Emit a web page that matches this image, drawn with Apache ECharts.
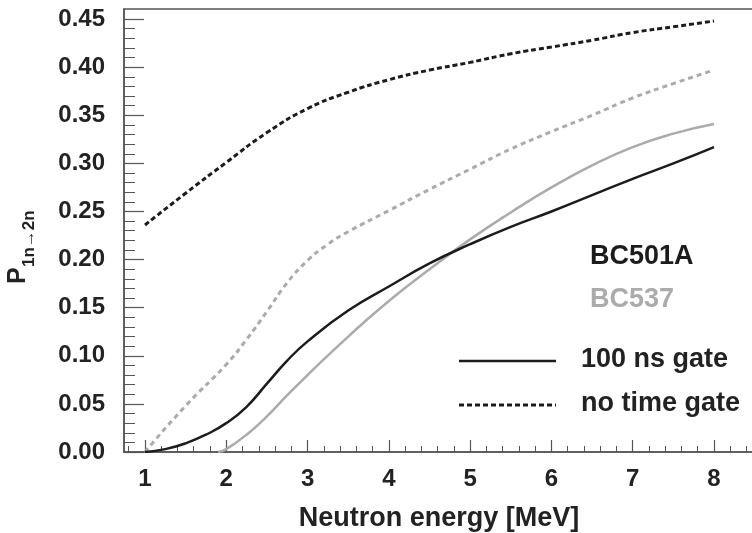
<!DOCTYPE html>
<html>
<head>
<meta charset="utf-8">
<title>P1n-2n vs neutron energy</title>
<script src="https://cdn.jsdelivr.net/npm/echarts@6/dist/echarts.min.js"></script>
<style>
  html, body { margin: 0; padding: 0; background: #fff; }
  #chart { width: 752px; height: 533px; }
</style>
</head>
<body>
<div id="chart"></div>
<script>
// neutron energy (MeV) sampled along each curve
var energyA = [1, 1.25, 1.5, 1.75, 2, 2.25, 2.5, 2.75, 3, 3.5, 4, 4.5, 5, 5.5, 6, 6.5, 7, 7.5, 8];
var bc501aGate = [0, 0.003, 0.009, 0.018, 0.030, 0.047, 0.071, 0.095, 0.115, 0.147, 0.172, 0.196, 0.216, 0.234, 0.250, 0.267, 0.284, 0.300, 0.317];

var energyB = [1.9, 2, 2.25, 2.5, 2.75, 3, 3.5, 4, 4.5, 5, 5.5, 6, 6.5, 7, 7.5, 8];
var bc537Gate = [0, 0.003, 0.018, 0.037, 0.059, 0.080, 0.120, 0.157, 0.190, 0.221, 0.249, 0.275, 0.298, 0.317, 0.331, 0.341];

var energyC = [1, 1.5, 2, 2.5, 3, 3.5, 4, 4.5, 5, 5.5, 6, 6.5, 7, 7.5, 8];
var bc501aNoGate = [0.236, 0.269, 0.301, 0.332, 0.357, 0.374, 0.387, 0.397, 0.405, 0.414, 0.421, 0.428, 0.436, 0.442, 0.448];

var energyD = [1, 1.5, 2, 2.25, 2.5, 2.75, 3, 3.25, 3.5, 4, 4.5, 5, 5.5, 6, 6.5, 7, 7.5, 8];
var bc537NoGate = [0.0, 0.048, 0.091, 0.117, 0.146, 0.176, 0.199, 0.216, 0.229, 0.251, 0.273, 0.294, 0.315, 0.333, 0.350, 0.368, 0.383, 0.397];

var xTicks = [1, 2, 3, 4, 5, 6, 7, 8];
var xMinorTicks = [0.8, 1.2, 1.4, 1.6, 1.8, 2.2, 2.4, 2.6, 2.8, 3.2, 3.4, 3.6, 3.8, 4.2, 4.4, 4.6, 4.8,
                   5.2, 5.4, 5.6, 5.8, 6.2, 6.4, 6.6, 6.8, 7.2, 7.4, 7.6, 7.8, 8.2, 8.4];
var yTicks = [0, 0.05, 0.10, 0.15, 0.20, 0.25, 0.30, 0.35, 0.40, 0.45];
var yMinorTicks = [];
for (var k = 1; k < 46; k++) { if (k % 5 != 0) yMinorTicks.push(+(k / 100).toFixed(2)); }

function pairs(xs, ys) {
  var out = [];
  for (var i = 0; i < xs.length; i++) out.push([xs[i], ys[i]]);
  return out;
}

var FONT = "'Liberation Sans', Arial, sans-serif";
var BLACK = '#1c1c1c';
var GREY = '#ababab';
var AXIS = '#555';

var myChart = echarts.init(document.getElementById('chart'), null, { renderer: 'canvas' });

var xMin = 0.742, xMax = 8.492, yMin = 0, yMax = 0.4605;

var option = {
  animation: false,
  grid: {
    left: 124, right: -2, top: 9, bottom: 81,
    outerBoundsMode: 'none', containLabel: false,
    show: true, borderColor: AXIS, borderWidth: 1.5
  },
  xAxis: [
    {
      type: 'value', min: xMin, max: xMax,
      splitLine: { show: false },
      axisLine: { show: true, onZero: false, lineStyle: { color: AXIS, width: 1.5 } },
      axisTick: { show: true, inside: true, length: 12, customValues: xTicks, lineStyle: { color: AXIS, width: 1.2 } },
      axisLabel: {
        customValues: xTicks, margin: 15,
        color: '#222', fontSize: 24, fontWeight: 'bold', fontFamily: FONT
      },
      name: 'Neutron energy [MeV]',
      nameLocation: 'middle', nameGap: 53,
      nameTextStyle: { color: '#222', fontSize: 27, fontWeight: 'bold', fontFamily: FONT }
    },
    {
      type: 'value', min: xMin, max: xMax, position: 'bottom',
      splitLine: { show: false },
      axisLine: { show: false },
      axisTick: { show: true, inside: true, length: 6, customValues: xMinorTicks, lineStyle: { color: AXIS, width: 1 } },
      axisLabel: { show: false }
    }
  ],
  yAxis: [
    {
      type: 'value', min: yMin, max: yMax,
      splitLine: { show: false },
      axisLine: { show: true, onZero: false, lineStyle: { color: AXIS, width: 1.5 } },
      axisTick: { show: true, inside: true, length: 20, customValues: yTicks, lineStyle: { color: AXIS, width: 1.2 } },
      axisLabel: {
        customValues: yTicks, margin: 19,
        formatter: function (v) { return v.toFixed(2); },
        color: '#222', fontSize: 24, fontWeight: 'bold', fontFamily: FONT
      }
    },
    {
      type: 'value', min: yMin, max: yMax, position: 'left',
      splitLine: { show: false },
      axisLine: { show: false },
      axisTick: { show: true, inside: true, length: 11, customValues: yMinorTicks, lineStyle: { color: AXIS, width: 1 } },
      axisLabel: { show: false }
    }
  ],
  series: [
    {
      name: 'BC501A no time gate', type: 'line', showSymbol: false, smooth: 0.5,
      data: pairs(energyC, bc501aNoGate),
      lineStyle: { color: BLACK, width: 3, type: [5, 3] }
    },
    {
      name: 'BC537 no time gate', type: 'line', showSymbol: false, smooth: 0.5,
      data: pairs(energyD, bc537NoGate),
      lineStyle: { color: GREY, width: 3, type: [5, 4] }
    },
    {
      name: 'BC537 100 ns gate', type: 'line', showSymbol: false, smooth: 0.5,
      data: pairs(energyB, bc537Gate),
      lineStyle: { color: GREY, width: 2.5 }
    },
    {
      name: 'BC501A 100 ns gate', type: 'line', showSymbol: false, smooth: 0.5,
      data: pairs(energyA, bc501aGate),
      lineStyle: { color: BLACK, width: 2.5 }
    }
  ],
  graphic: [
    // y axis name P_{1n->2n}
    {
      type: 'group', x: 31, y: 284, rotation: Math.PI / 2,
      children: [
        { type: 'text', x: 0, y: 0, style: { text: 'P', fill: '#222', font: 'bold 25px ' + FONT, textVerticalAlign: 'bottom' } },
        { type: 'text', x: 17, y: 7, style: { text: '1n\u21922n', fill: '#222', font: 'bold 17px ' + FONT, textVerticalAlign: 'bottom' } }
      ]
    },
    { type: 'text', left: 590, top: 243, style: { text: 'BC501A', fill: BLACK, font: 'bold 27px ' + FONT } },
    { type: 'text', left: 590, top: 286, style: { text: 'BC537', fill: GREY, font: 'bold 27px ' + FONT } },
    { type: 'line', shape: { x1: 459, y1: 361, x2: 556, y2: 361 }, style: { stroke: BLACK, lineWidth: 2.5 } },
    { type: 'line', shape: { x1: 459, y1: 405, x2: 556, y2: 405 }, style: { stroke: BLACK, lineWidth: 3, lineDash: [5, 3] } },
    { type: 'text', left: 581, top: 346, style: { text: '100 ns gate', fill: '#222', font: 'bold 27px ' + FONT } },
    { type: 'text', left: 581, top: 390, style: { text: 'no time gate', fill: '#222', font: 'bold 27px ' + FONT } }
  ]
};

myChart.setOption(option);
</script>
</body>
</html>
